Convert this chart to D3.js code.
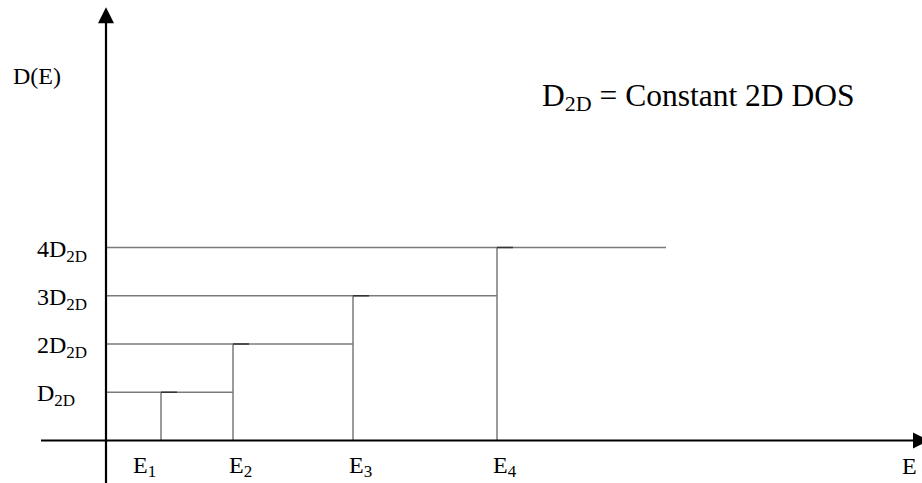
<!DOCTYPE html>
<html>
<head>
<meta charset="utf-8">
<script src="https://cdn.jsdelivr.net/npm/d3@7"></script>
<style>
  html, body { margin: 0; padding: 0; background: #fff; }
  svg { display: block; }
</style>
</head>
<body>
<svg id="chart" width="922" height="483"></svg>
<script>
// Subband edge energies (arbitrary units) and the DOS step levels (multiples of D2D)
const subbandEnergies = [0.55, 1.27, 2.47, 3.91];
const subbandNames = ["E1", "E2", "E3", "E4"];
const stepLevels = [1, 2, 3, 4];
const levelLabels = [["", "D", "2D"], ["2", "D", "2D"], ["3", "D", "2D"], ["4", "D", "2D"]];
const lastStepEnd = 5.60;   // where the top plateau is cut off
const energyMax = 8.23;     // end of the energy axis (arrow tip)
const dosMax = 8.98;        // end of the DOS axis (arrow tip)

const serif = "'Liberation Serif', 'Times New Roman', Times, 'DejaVu Serif', serif";

const svg = d3.select("#chart")
  .style("font-family", serif);

const x = d3.scaleLinear().domain([0, energyMax]).range([106, 929]);
const y = d3.scaleLinear().domain([0, 4]).range([440.5, 247.5]);

const grey = "#7a7a7a";
const dark = "#333333";

// Staircase: each plateau runs from the axis to the next subband edge
const plateaus = stepLevels.map((lvl, i) => ({
  lvl,
  x1: 0,
  x2: i < subbandEnergies.length - 1 ? subbandEnergies[i + 1] : lastStepEnd
}));

svg.append("g").selectAll("line").data(plateaus).join("line")
  .attr("x1", d => x(d.x1)).attr("x2", d => x(d.x2))
  .attr("y1", d => y(d.lvl)).attr("y2", d => y(d.lvl))
  .attr("stroke", grey).attr("stroke-width", 1.5);

// Risers at each subband edge
svg.append("g").selectAll("line").data(subbandEnergies).join("line")
  .attr("x1", d => x(d)).attr("x2", d => x(d))
  .attr("y1", y(0)).attr("y2", (d, i) => y(stepLevels[i]))
  .attr("stroke", grey).attr("stroke-width", 1.5);

// Short darker caps at the top of each riser
svg.append("g").selectAll("line").data(subbandEnergies).join("line")
  .attr("x1", d => x(d)).attr("x2", d => x(d) + 16)
  .attr("y1", (d, i) => y(stepLevels[i])).attr("y2", (d, i) => y(stepLevels[i]))
  .attr("stroke", dark).attr("stroke-width", 1.5);

// Axes
const axes = svg.append("g");
axes.append("line")
  .attr("x1", x(-0.65)).attr("x2", x(energyMax) - 14)
  .attr("y1", y(0)).attr("y2", y(0))
  .attr("stroke", "#000").attr("stroke-width", 2.2);
axes.append("line")
  .attr("x1", x(0)).attr("x2", x(0))
  .attr("y1", 483).attr("y2", y(dosMax) + 14)
  .attr("stroke", "#000").attr("stroke-width", 2.2);

// Arrow heads
const xt = x(energyMax), yt = y(0);
axes.append("path")
  .attr("d", `M${xt},${yt} L${xt - 16},${yt - 8} L${xt - 16},${yt + 8} Z`)
  .attr("fill", "#000");
const ax = x(0), ay = y(dosMax);
axes.append("path")
  .attr("d", `M${ax},${ay} L${ax - 8},${ay + 16} L${ax + 8},${ay + 16} Z`)
  .attr("fill", "#000");

// Axis titles
svg.append("text").attr("x", 13).attr("y", 84).attr("font-size", 24).text("D(E)");
svg.append("text").attr("x", 902).attr("y", 474).attr("font-size", 24).text("E");

// DOS level labels
const lvlText = svg.append("g").selectAll("text").data(levelLabels).join("text")
  .attr("x", 37)
  .attr("y", (d, i) => y(stepLevels[i]) + 9)
  .attr("font-size", 24);
lvlText.append("tspan").text(d => d[0] + d[1]);
lvlText.append("tspan").attr("font-size", 17).attr("dy", 5).text(d => d[2]);

// Subband labels
const labelNudge = [-28, -4, -4, -4];
const eText = svg.append("g").selectAll("text").data(subbandNames).join("text")
  .attr("x", (d, i) => x(subbandEnergies[i]) + labelNudge[i])
  .attr("y", 473)
  .attr("font-size", 24);
eText.append("tspan").text(d => d[0]);
eText.append("tspan").attr("font-size", 17).attr("dy", 4).text(d => d.slice(1));

// Legend note
const note = svg.append("text").attr("x", 542).attr("y", 106).attr("font-size", 31.5);
note.append("tspan").text("D");
note.append("tspan").attr("font-size", 22).attr("dy", 5).text("2D");
note.append("tspan").attr("dy", -5).text(" = Constant 2D DOS");
</script>
</body>
</html>
